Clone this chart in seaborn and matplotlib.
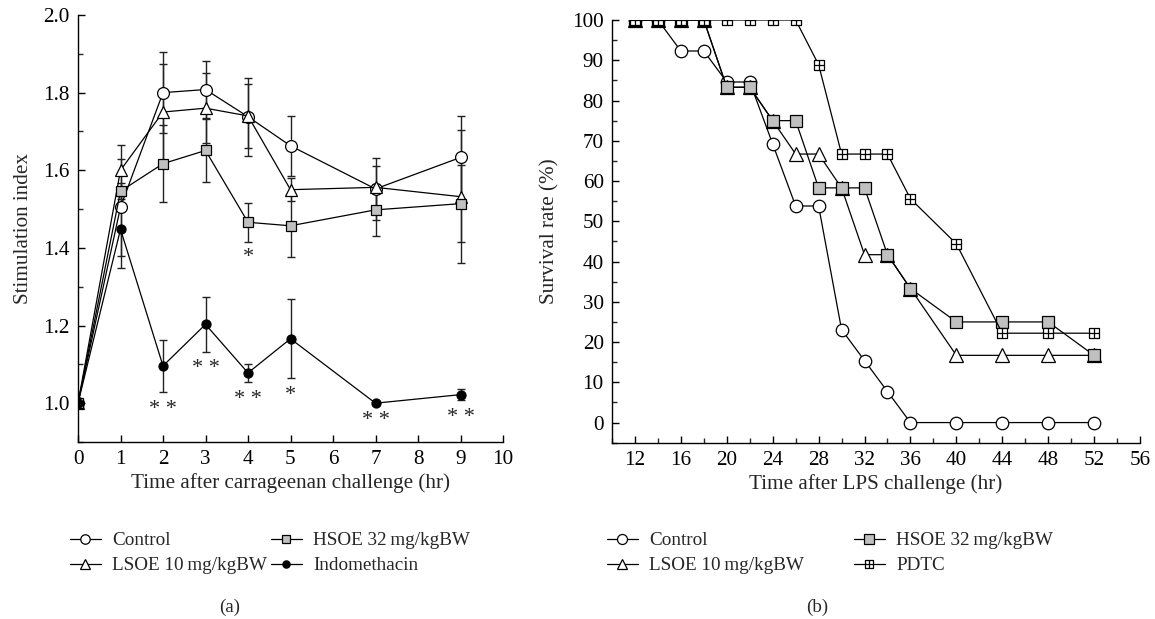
import matplotlib
matplotlib.use("Agg")
import matplotlib.pyplot as plt
import seaborn as sns
import numpy as np
import pandas as pd
from matplotlib.path import Path
from matplotlib.ticker import MultipleLocator

# ---------------- Panel (a) data ----------------
time_a = [0, 1, 2, 3, 4, 5, 7, 9]
control_a = [1.00, 1.505, 1.80, 1.808, 1.738, 1.663, 1.552, 1.633]
control_a_err = [0.0, 0.125, 0.105, 0.073, 0.10, 0.078, 0.08, 0.107]
lsoe_a = [1.00, 1.60, 1.75, 1.76, 1.74, 1.55, 1.556, 1.532]
lsoe_a_err = [0.0, 0.066, 0.125, 0.09, 0.083, 0.03, 0.055, 0.172]
hsoe_a = [1.00, 1.546, 1.617, 1.651, 1.466, 1.457, 1.498, 1.514]
hsoe_a_err = [0.0, 0.02, 0.10, 0.08, 0.05, 0.08, 0.067, 0.10]
indo_a = [1.00, 1.448, 1.096, 1.203, 1.078, 1.166, 1.00, 1.022]
indo_a_err = [0.0, 0.10, 0.068, 0.07, 0.024, 0.102, 0.0, 0.015]
indo_sig = ["", "", "* *", "* *", "* *", "*", "* *", "* *"]
hsoe_sig = ["", "", "", "", "*", "", "", ""]

# ---------------- Panel (b) data ----------------
time_b = [12, 14, 16, 18, 20, 22, 24, 26, 28, 30, 32, 34, 36, 40, 44, 48, 52]
control_b = [100, 100, 92.3, 92.3, 84.6, 84.6, 69.2, 53.8, 53.8, 23.1, 15.4, 7.7, 0, 0, 0, 0, 0]
lsoe_b = [100, 100, 100, 100, 83.3, 83.3, 75, 66.7, 66.7, 58.3, 41.7, 41.7, 33.3, 16.7, 16.7, 16.7, 16.7]
hsoe_b = [100, 100, 100, 100, 83.3, 83.3, 75, 75, 58.3, 58.3, 58.3, 41.7, 33.3, 25, 25, 25, 16.7]
pdtc_b = [100, 100, 100, 100, 100, 100, 100, 100, 88.9, 66.7, 66.7, 66.7, 55.6, 44.4, 22.2, 22.2, 22.2]

labels_a = ["Control", "LSOE 10\u2009mg/kgBW", "HSOE 32\u2009mg/kgBW", "Indomethacin"]
labels_b = ["Control", "LSOE 10\u2009mg/kgBW", "HSOE 32\u2009mg/kgBW", "PDTC"]

sns.set_style("ticks")
plt.rcParams["font.family"] = ["Liberation Serif", "DejaVu Serif"]
FS = 15.2
LFS = 13.8
plt.rcParams["font.size"] = FS

fig = plt.figure(figsize=(11.55, 6.19), dpi=100)
W, H = 1155, 619
ax1 = fig.add_axes([78 / W, 1 - 442 / H, (503 - 78) / W, (442 - 15) / H])
ax2 = fig.add_axes([612 / W, 1 - 442.7 / H, (1140 - 612) / W, (442.7 - 20) / H])

LW = 0.9
GRAY = "#c0c0c0"

# box-plus marker for PDTC
box_plus = Path(
    [(-1, -1), (1, -1), (1, 1), (-1, 1), (-1, -1), (-1, 0), (1, 0), (0, -1), (0, 1)],
    [Path.MOVETO, Path.LINETO, Path.LINETO, Path.LINETO, Path.CLOSEPOLY,
     Path.MOVETO, Path.LINETO, Path.MOVETO, Path.LINETO],
)

styles_a = [
    dict(marker="o", markersize=8.5, markerfacecolor="white"),
    dict(marker="^", markersize=8.5, markerfacecolor="white"),
    dict(marker="s", markersize=7, markerfacecolor=GRAY),
    dict(marker="o", markersize=6.5, markerfacecolor="black"),
]
series_a = [(control_a, control_a_err), (lsoe_a, lsoe_a_err), (hsoe_a, hsoe_a_err), (indo_a, indo_a_err)]
order_a = [0, 2, 1, 3]
for i in order_a:
    vals, errs = series_a[i]
    ax1.errorbar(time_a, vals, yerr=errs, fmt="none", ecolor="#222222", elinewidth=1.0,
                 capsize=3.2, capthick=1.0, zorder=2)
    sns.lineplot(x=time_a, y=vals, ax=ax1, color="black", linewidth=LW,
                 markeredgecolor="black", markeredgewidth=0.9, label=labels_a[i],
                 zorder=3 + i, **styles_a[i])

# significance marks
for x, v, e, s in zip(time_a, indo_a, indo_a_err, indo_sig):
    if s:
        ax1.text(x, v - e - 0.02, s, ha="center", va="top", fontsize=16)
for x, v, e, s in zip(time_a, hsoe_a, hsoe_a_err, hsoe_sig):
    if s:
        ax1.text(x, v - e - 0.016, s, ha="center", va="top", fontsize=16)

ax1.set_xlim(0, 10)
ax1.set_ylim(0.9, 2.0)
ax1.xaxis.set_major_locator(MultipleLocator(1))
ax1.yaxis.set_minor_locator(MultipleLocator(0.1))
ax1.set_yticks([1.0, 1.2, 1.4, 1.6, 1.8, 2.0])
ax1.set_yticklabels(["1.0", "1.2", "1.4", "1.6", "1.8", "2.0"])
ax1.set_xlabel("Time after carrageenan challenge (hr)", fontsize=FS, labelpad=3)
ax1.set_ylabel("Stimulation index", fontsize=FS, labelpad=7)

styles_b = [
    dict(marker="o", markersize=9, markerfacecolor="white"),
    dict(marker="^", markersize=9.5, markerfacecolor="white"),
    dict(marker="s", markersize=8.5, markerfacecolor=GRAY),
    dict(marker=box_plus, markersize=7.5, markerfacecolor="white"),
]
series_b = [control_b, lsoe_b, hsoe_b, pdtc_b]
for i in [0, 1, 2, 3]:
    sns.lineplot(x=time_b, y=series_b[i], ax=ax2, color="black", linewidth=LW,
                 markeredgecolor="black", markeredgewidth=0.9, label=labels_b[i],
                 zorder=3 + i, **styles_b[i])

ax2.set_xlim(10, 56)
ax2.set_ylim(-5, 100)
ax2.set_xticks(list(range(12, 57, 4)))
ax2.xaxis.set_minor_locator(MultipleLocator(2))
ax2.yaxis.set_minor_locator(MultipleLocator(5))
ax2.set_yticks(list(range(0, 101, 10)))
ax2.set_xlabel("Time after LPS challenge (hr)", fontsize=FS, labelpad=3)
ax2.set_ylabel("Survival rate (%)", fontsize=FS, labelpad=9)

for ax in (ax1, ax2):
    sns.despine(ax=ax)
    for sp in ("left", "bottom"):
        ax.spines[sp].set_linewidth(1.0)
        ax.spines[sp].set_color("black")
    ax.tick_params(which="major", direction="in", length=5, width=1.0, labelsize=FS, pad=6, colors="black")
    ax.tick_params(which="minor", direction="in", length=3.5, width=1.0)
    ax.patch.set_alpha(0)

# legends
h1, l1 = ax1.get_legend_handles_labels()
d1 = dict(zip(l1, h1))
ax1.get_legend().remove()
fig.legend([d1[l] for l in labels_a], labels_a, ncol=2, loc="upper left",
           bbox_to_anchor=(70 / W, 1 - 532 / H), frameon=False, fontsize=LFS,
           handlelength=1.6, handletextpad=0.6, columnspacing=0.2, labelspacing=0.4,
           markerscale=0.8, borderpad=0, borderaxespad=0)

h2, l2 = ax2.get_legend_handles_labels()
d2 = dict(zip(l2, h2))
ax2.get_legend().remove()
fig.legend([d2[l] for l in labels_b], labels_b, ncol=2, loc="upper left",
           bbox_to_anchor=(607 / W, 1 - 532 / H), frameon=False, fontsize=LFS,
           handlelength=1.6, handletextpad=0.6, columnspacing=2.6, labelspacing=0.4,
           markerscale=0.8, borderpad=0, borderaxespad=0)

fig.text(230 / W, 1 - 607 / H, "(a)", ha="center", va="center", fontsize=FS - 1.5)
fig.text(817 / W, 1 - 607 / H, "(b)", ha="center", va="center", fontsize=FS - 1.5)

fig.savefig("out.png", dpi=100, facecolor="white")
